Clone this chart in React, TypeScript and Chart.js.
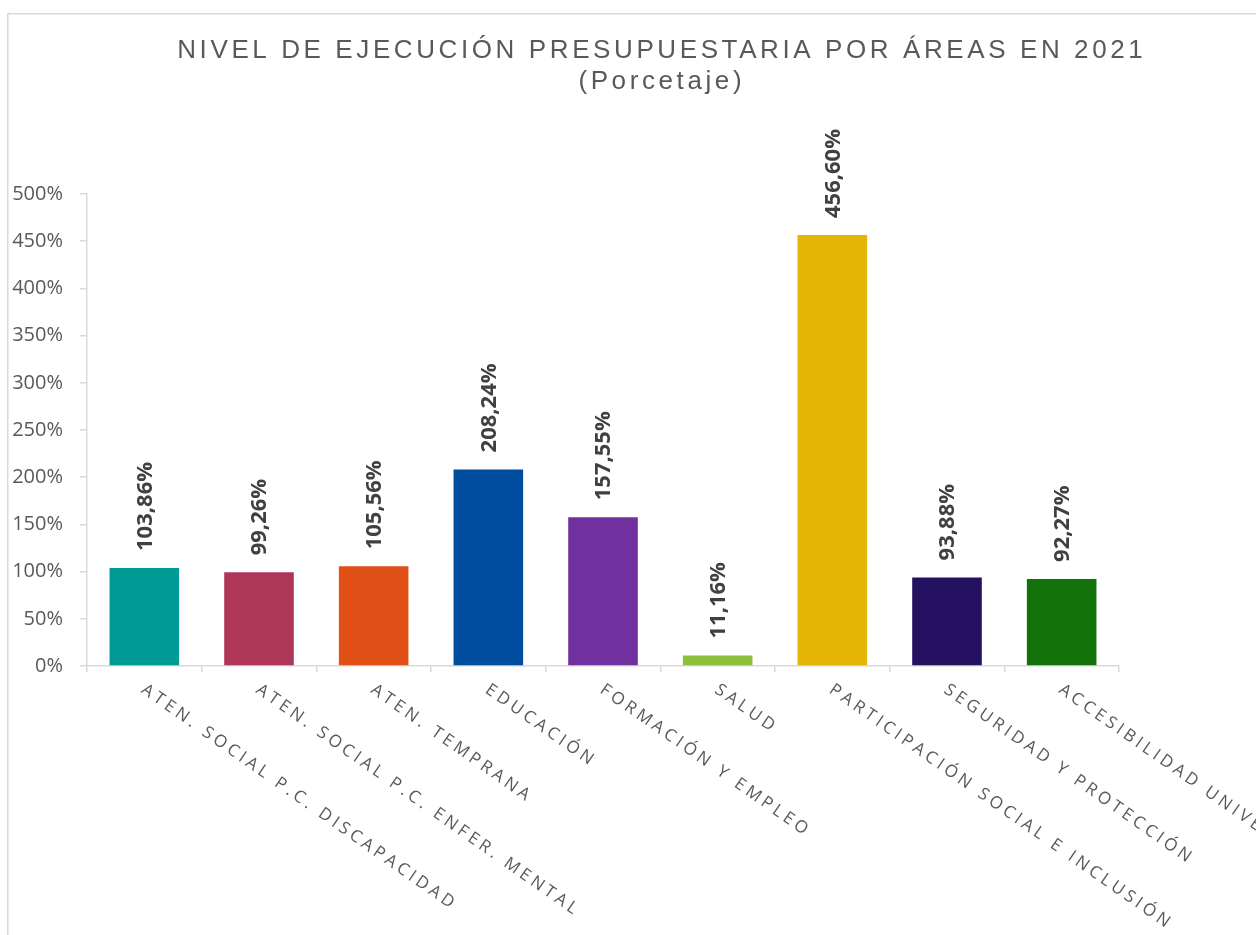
import React, { useEffect, useRef } from "react";
import { Chart, registerables } from "chart.js";

Chart.register(...registerables);

const titleLines = ["NIVEL DE EJECUCIÓN PRESUPUESTARIA POR ÁREAS EN 2021", "(Porcetaje)"];

const categories = [
  "ATEN. SOCIAL P.C. DISCAPACIDAD",
  "ATEN. SOCIAL P.C. ENFER. MENTAL",
  "ATEN. TEMPRANA",
  "EDUCACIÓN",
  "FORMACIÓN Y EMPLEO",
  "SALUD",
  "PARTICIPACIÓN SOCIAL E INCLUSIÓN",
  "SEGURIDAD Y PROTECCIÓN",
  "ACCESIBILIDAD UNIVERSAL",
];

const values = [103.86, 99.26, 105.56, 208.24, 157.55, 11.16, 456.6, 93.88, 92.27];

const valueLabels = ["103,86%", "99,26%", "105,56%", "208,24%", "157,55%", "11,16%", "456,60%", "93,88%", "92,27%"];

const barColors = [
  "#009A96",
  "#AE3759",
  "#E05016",
  "#004C9E",
  "#7030A0",
  "#8CBF3A",
  "#E5B505",
  "#251162",
  "#127109",
];

const yMin = 0;
const yMax = 500;
const yStep = 50;

const frame = {
  id: "frame",
  beforeDraw(chart: any) {
    const ctx = chart.ctx as CanvasRenderingContext2D;
    ctx.save();
    ctx.fillStyle = "#ffffff";
    ctx.fillRect(0, 0, chart.width, chart.height);
    ctx.strokeStyle = "#d9d9d9";
    ctx.lineWidth = 1.5;
    ctx.strokeRect(0.75, 0.75, chart.width + 10, chart.height + 10);
    ctx.restore();
  },
};

const customDraw = {
  id: "customDraw",
  afterDraw(chart: any) {
    const ctx = chart.ctx as CanvasRenderingContext2D;
    // title
    ctx.save();
    ctx.fillStyle = "#595959";
    ctx.font = "26px 'Liberation Sans', Arial, sans-serif";
    (ctx as any).letterSpacing = "3.6px";
    ctx.textAlign = "center";
    ctx.textBaseline = "alphabetic";
    const cx = 653;
    ctx.fillText(titleLines[0], cx + 1.8, 45);
    ctx.fillText(titleLines[1], cx + 1.8, 76);
    ctx.restore();

    // data labels
    const meta = chart.getDatasetMeta(0);
    ctx.save();
    ctx.fillStyle = "#404040";
    ctx.font = "bold 22px 'Open Sans', sans-serif";
    ctx.textAlign = "left";
    ctx.textBaseline = "middle";
    meta.data.forEach((bar: any, i: number) => {
      ctx.save();
      ctx.translate(bar.x + 1, bar.y - 17);
      ctx.rotate(-Math.PI / 2);
      ctx.fillText(valueLabels[i], 0, 0);
      ctx.restore();
    });
    ctx.restore();

    // x labels
    const xScale = chart.scales.x;
    const yBottom = chart.chartArea.bottom;
    const ang = (35 * Math.PI) / 180;
    ctx.save();
    ctx.fillStyle = "#595959";
    ctx.font = "17px 'Open Sans', sans-serif";
    (ctx as any).letterSpacing = "3.8px";
    ctx.textAlign = "left";
    ctx.textBaseline = "alphabetic";
    categories.forEach((c, i) => {
      const x = xScale.getPixelForValue(i);
      ctx.save();
      ctx.translate(x - 4, yBottom + 26);
      ctx.rotate(ang);
      ctx.fillText(c, 0, 0);
      ctx.restore();
    });
    ctx.restore();
  },
};

export default function App() {
  const ref = useRef<HTMLCanvasElement>(null);
  useEffect(() => {
    if (!ref.current) return;
    const chart = new Chart(ref.current, {
      type: "bar",
      data: {
        labels: categories,
        datasets: [
          {
            data: values,
            backgroundColor: barColors,
            borderWidth: 0,
            categoryPercentage: 1,
            barPercentage: 0.607,
          },
        ],
      },
      options: {
        animation: false,
        responsive: true,
        maintainAspectRatio: false,
        layout: { padding: { top: 181, right: 198, bottom: 0, left: 0 } },
        plugins: {
          legend: { display: false },
          tooltip: { enabled: false },
          title: { display: false },
        },
        scales: {
          x: {
            grid: {
              offset: true,
              drawOnChartArea: false,
              drawTicks: true,
              tickLength: 6,
              color: "#d9d9d9",
              lineWidth: 1.5,
            },
            border: { display: true, color: "#d9d9d9", width: 1.5 },
            ticks: { display: false },
            afterFit: (s: any) => {
              s.height = 347;
            },
          },
          y: {
            min: yMin,
            max: yMax,
            ticks: {
              stepSize: yStep,
              padding: 17,
              color: "#595959",
              font: { family: "'Open Sans', sans-serif", size: 20 },
              callback: (v: any) => v + "%",
            },
            grid: {
              drawOnChartArea: false,
              drawTicks: true,
              tickLength: 7,
              color: "#d9d9d9",
              lineWidth: 1.5,
            },
            border: { display: true, color: "#d9d9d9", width: 1.5 },
            afterFit: (s: any) => {
              s.width = 80;
            },
          },
        },
      },
      plugins: [frame, customDraw],
    });
    return () => chart.destroy();
  }, []);

  return (
    <div style={{ position: "absolute", left: 7, top: 13, width: 1249, height: 922, overflow: "hidden" }}>
      <div style={{ position: "relative", width: 1310, height: 1000 }}>
        <canvas ref={ref} />
      </div>
    </div>
  );
}
